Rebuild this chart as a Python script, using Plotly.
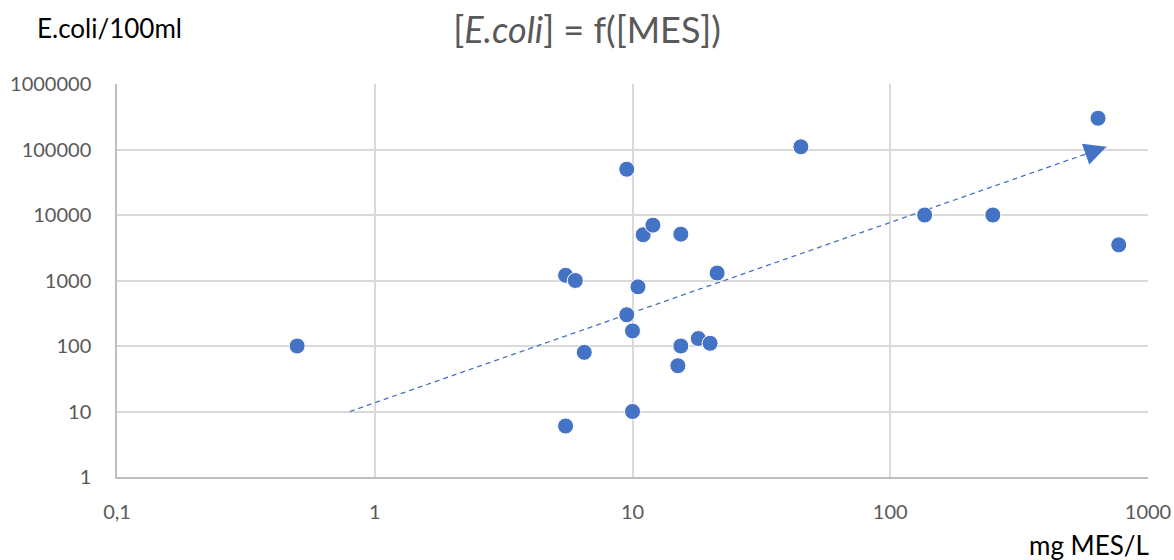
import plotly.graph_objects as go
import math

# Data
mes_mg_l = [0.5, 5.5, 5.5, 6, 6.5, 9.5, 9.5, 10, 10, 10.5, 11, 12, 15, 15.4, 15.4, 18, 20, 21.3, 45, 136, 250, 640, 770]
ecoli_100ml = [100, 6, 1200, 1000, 80, 50000, 300, 170, 10, 800, 5000, 7000, 50, 100, 5100, 130, 110, 1300, 110000, 10000, 10000, 300000, 3500]

arrow_x = [0.8, 690]
arrow_y = [10, 110000]

x_tickvals = [0.1, 1, 10, 100, 1000]
x_ticktext = ["0,1", "1", "10", "100", "1000"]
y_tickvals = [1, 10, 100, 1000, 10000, 100000, 1000000]
y_ticktext = ["1", "10", "100", "1000", "10000", "100000", "1000000"]

BLUE = "#4472C4"
FONT = "Lato"

fig = go.Figure()

fig.add_trace(go.Scatter(
    x=arrow_x, y=arrow_y, mode="lines",
    line=dict(color=BLUE, width=1.3, dash="5px,4px"),
    hoverinfo="skip", showlegend=False,
))

fig.add_trace(go.Scatter(
    x=mes_mg_l, y=ecoli_100ml, mode="markers",
    marker=dict(color=BLUE, size=16, line=dict(color="white", width=1)),
    showlegend=False,
))

# arrow head at the end of the dashed line
lx0, ly0 = math.log10(arrow_x[0]), math.log10(arrow_y[0])
lx1, ly1 = math.log10(arrow_x[1]), math.log10(arrow_y[1])
t = 0.97
fig.add_annotation(
    x=lx1, y=ly1, ax=lx0 + (lx1 - lx0) * t, ay=ly0 + (ly1 - ly0) * t,
    xref="x", yref="y", axref="x", ayref="y",
    showarrow=True, arrowhead=2, arrowsize=3.4, arrowwidth=1.3,
    arrowcolor=BLUE, text="",
)

fig.add_annotation(
    text="E.coli/100ml", xref="paper", yref="paper",
    x=(35 - 117) / 1031, y=(477 - 28) / 393, xanchor="left", yanchor="middle",
    showarrow=False,
    font=dict(family=FONT, size=26, color="#000000"),
)
fig.add_annotation(
    text="mg MES/L", xref="paper", yref="paper",
    x=1.003, y=(477 - 545) / 393, xanchor="right", yanchor="middle",
    showarrow=False,
    font=dict(family=FONT, size=26, color="#000000"),
)

fig.update_layout(
    width=1174, height=560,
    margin=dict(l=117, r=26, t=84, b=83, autoexpand=False),
    paper_bgcolor="white", plot_bgcolor="white",
    font=dict(family=FONT, color="#595959", size=20),
    title=dict(
        text="[<i>E.coli</i>] = f([MES])",
        x=0.5, xref="container", xanchor="center",
        y=1 - 30 / 560, yref="container", yanchor="middle",
        font=dict(family=FONT, size=36, color="#595959"),
    ),
    xaxis=dict(
        type="log", range=[-1, 3], automargin=False,
        tickvals=x_tickvals, ticktext=x_ticktext,
        showgrid=True, gridcolor="#D9D9D9", gridwidth=1.5,
        showline=True, linecolor="#BFBFBF", linewidth=1.5,
        zeroline=False, ticks="", ticklabelstandoff=16,
        tickfont=dict(family=FONT, size=20, color="#595959"),
    ),
    yaxis=dict(
        type="log", range=[0, 6], automargin=False,
        tickvals=y_tickvals, ticktext=y_ticktext,
        showgrid=True, gridcolor="#D9D9D9", gridwidth=1.5,
        showline=True, linecolor="#BFBFBF", linewidth=1.5,
        zeroline=False, ticks="", ticklabelstandoff=20,
        tickfont=dict(family=FONT, size=20, color="#595959"),
    ),
)

fig.write_html(
    "out.html",
    config={"displayModeBar": False},
    post_script="document.body.style.margin='0px';",
)
